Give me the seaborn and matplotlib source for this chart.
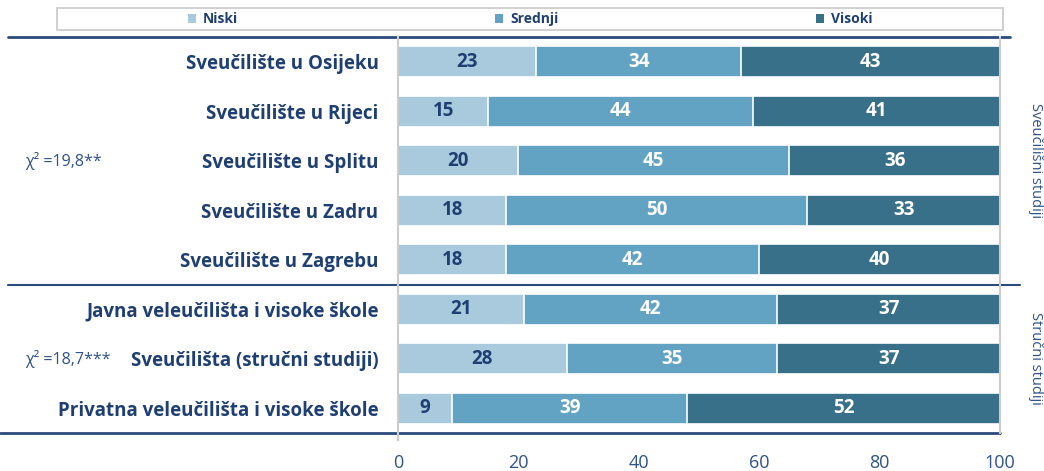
import numpy as np
import pandas as pd
import matplotlib.pyplot as plt
import matplotlib.transforms as mtransforms
from matplotlib.lines import Line2D
from matplotlib.patches import Rectangle, Patch
import seaborn as sns

institutions = [
    'Sveučilište u Osijeku',
    'Sveučilište u Rijeci',
    'Sveučilište u Splitu',
    'Sveučilište u Zadru',
    'Sveučilište u Zagrebu',
    'Javna veleučilišta i visoke škole',
    'Sveučilišta (stručni studiji)',
    'Privatna veleučilišta i visoke škole',
]
niski = [23, 15, 20, 18, 18, 21, 28, 9]
srednji = [34, 44, 45, 50, 42, 42, 35, 39]
visoki = [43, 41, 36, 33, 40, 37, 37, 52]
levels = ['Niski', 'Srednji', 'Visoki']
groups = ['Sveučilišni studiji', 'Stručni studiji']
chi_labels = ['χ² =19,8**', 'χ² =18,7***']

colors = {'Niski': '#a8cadc', 'Srednji': '#62a3c4', 'Visoki': '#386f89'}
navy = '#1f3f73'

sns.set_theme(style='white')
plt.rcParams['font.family'] = ['Open Sans', 'DejaVu Sans']

df = pd.DataFrame({'inst': institutions, 'Niski': niski,
                   'Srednji': srednji, 'Visoki': visoki})
df['c1'] = df['Niski']
df['c2'] = df['Niski'] + df['Srednji']
df['c3'] = df['c2'] + df['Visoki']

fig = plt.figure(figsize=(10.44, 4.71), dpi=100)
ax = fig.add_axes([398 / 1044, 1 - 433 / 471, 602 / 1044, 396 / 471])

for col, lev in [('c3', 'Visoki'), ('c2', 'Srednji'), ('c1', 'Niski')]:
    sns.barplot(data=df, x=col, y='inst', color=colors[lev], width=0.62,
                edgecolor='white', linewidth=1.2, saturation=1, ax=ax)

for i, row in df.iterrows():
    starts = [0, row['c1'], row['c2']]
    for lev, s in zip(levels, starts):
        v = row[lev]
        mid = (s + min(s + v, 100)) / 2
        ax.text(mid, i, str(v), ha='center', va='center', fontsize=13.5,
                fontweight='bold', color=navy if lev == 'Niski' else 'white')

ax.set_xlim(0, 100)
ax.set_ylim(7.5, -0.5)
ax.set_xlabel('')
ax.set_ylabel('')
ax.set_xticks([0, 20, 40, 60, 80, 100])
ax.tick_params(axis='x', length=0, pad=15, labelsize=13, labelcolor='#2f5288')
ax.tick_params(axis='y', length=0, pad=14, labelsize=13.5, labelcolor=navy)
for lab in ax.get_yticklabels():
    lab.set_fontweight('bold')
for side in ['top', 'bottom']:
    ax.spines[side].set_visible(False)
for side in ['left', 'right']:
    ax.spines[side].set_color('#cccccc')
    ax.spines[side].set_linewidth(1.5)
ax.spines['left'].set_bounds(7.65, -0.5)

# horizontal rules
trans = mtransforms.blended_transform_factory(fig.transFigure, ax.transData)
ax.add_line(Line2D([8 / 1044, 1010 / 1044], [-0.5, -0.5], transform=trans,
                   color='#2c4a7c', lw=2, clip_on=False))
ax.add_line(Line2D([8 / 1044, 1020 / 1044], [4.5, 4.5], transform=trans,
                   color='#2c4a7c', lw=1.5, clip_on=False))
ax.add_line(Line2D([0, 1000 / 1044], [7.5, 7.5], transform=trans,
                   color='#2c4a7c', lw=2, clip_on=False))

# group labels and chi-square
for g, y in zip(groups, [2, 6]):
    ax.text(1035 / 1044, y, g, transform=trans, rotation=-90, ha='center',
            va='center', fontsize=10.5, color='#2f5288')
for c, y in zip(chi_labels, [2, 6]):
    ax.text(25 / 1044, y, c, transform=trans, ha='left', va='center',
            fontsize=11.5, color='#2f5288')

# legend
fig.patches.append(Rectangle((57 / 1044, 1 - 30 / 471), 946 / 1044, 22 / 471,
                             transform=fig.transFigure, facecolor='white',
                             edgecolor='#c8c8c8', lw=1.2))
handles = [Patch(facecolor=colors[l], edgecolor='none') for l in levels]
fig.legend(handles, levels, loc='center', bbox_to_anchor=(530 / 1044, 1 - 19 / 471),
           ncol=3, frameon=False, handlelength=0.6, handleheight=0.6,
           handletextpad=0.5, columnspacing=18.5, labelcolor=navy,
           prop={'weight': 'bold', 'size': 10})

fig.savefig('out.png', dpi=100)
